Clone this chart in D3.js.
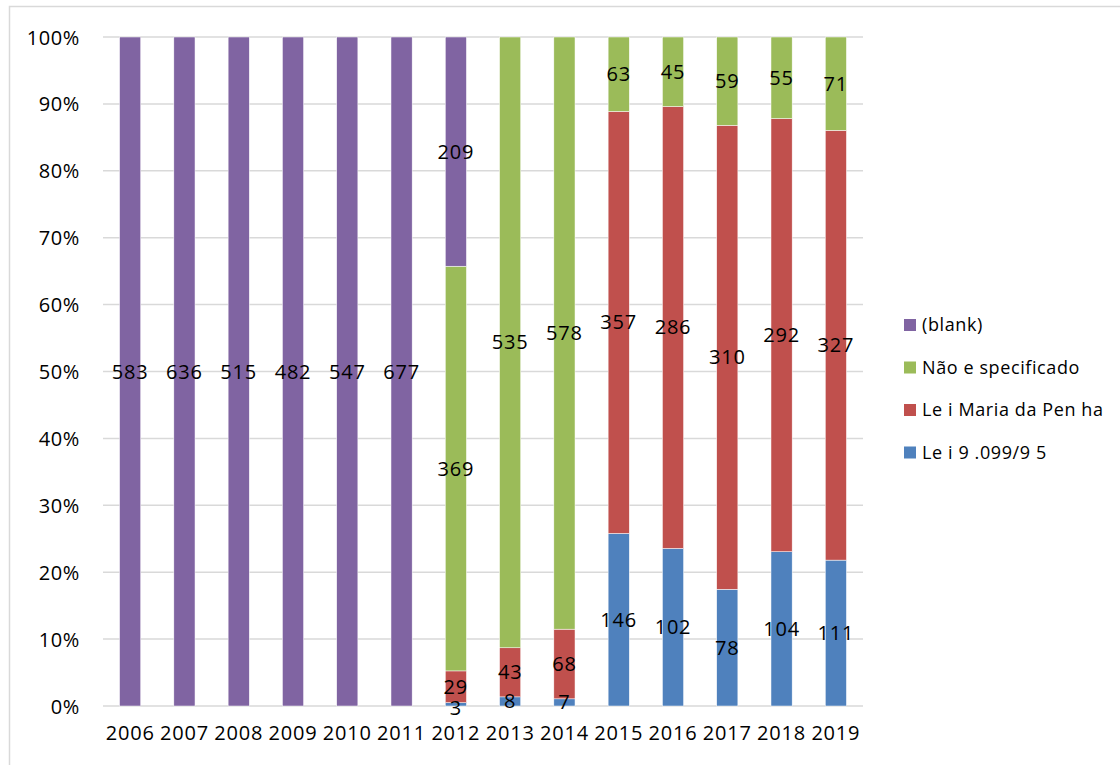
<!DOCTYPE html>
<html>
<head>
<meta charset="utf-8">
<script src="https://cdn.jsdelivr.net/npm/d3@7"></script>
<style>
  body { margin: 0; background: #fff; }
  svg text { font-family: "Open Sans", "Liberation Sans", sans-serif; fill: #000; }
</style>
</head>
<body>
<div id="chart"></div>
<script>
// data
var years = ["2006","2007","2008","2009","2010","2011","2012","2013","2014","2015","2016","2017","2018","2019"];
var lei9099 = [0, 0, 0, 0, 0, 0, 3, 8, 7, 146, 102, 78, 104, 111];
var leiMaria = [0, 0, 0, 0, 0, 0, 29, 43, 68, 357, 286, 310, 292, 327];
var naoEspec = [0, 0, 0, 0, 0, 0, 369, 535, 578, 63, 45, 59, 55, 71];
var blank = [583, 636, 515, 482, 547, 677, 209, 0, 0, 0, 0, 0, 0, 0];
var yTicks = [0, 0.1, 0.2, 0.3, 0.4, 0.5, 0.6, 0.7, 0.8, 0.9, 1];

// stacking order bottom -> top
var series = [
  {key: "lei9099", name: "Le i 9 .099/9 5", values: lei9099, color: "#4f81bd"},
  {key: "leiMaria", name: "Le i Maria da Pen ha", values: leiMaria, color: "#c0504d"},
  {key: "naoEspec", name: "Não e specificado", values: naoEspec, color: "#9bbb59"},
  {key: "blank", name: "(blank)", values: blank, color: "#8064a2"}
];

var W = 1120, H = 765;
var margin = {top: 37, right: 257, bottom: 59, left: 103};
var width = W - margin.left - margin.right,
    height = H - margin.top - margin.bottom;

var svg = d3.select("#chart").append("svg")
  .attr("width", W)
  .attr("height", H);

// chart frame
svg.append("rect")
  .attr("x", 9.5).attr("y", 6.5)
  .attr("width", W + 20).attr("height", H + 20)
  .attr("fill", "none")
  .attr("stroke", "#d9d9d9")
  .attr("stroke-width", 1.5);

var g = svg.append("g")
  .attr("transform", "translate(" + margin.left + "," + margin.top + ")");

var table = years.map(function(y, i) {
  var row = {year: y};
  series.forEach(function(s) { row[s.key] = s.values[i]; });
  return row;
});

var stack = d3.stack()
  .keys(series.map(function(s) { return s.key; }))
  .offset(d3.stackOffsetExpand);
var stacked = stack(table);

var x = d3.scaleBand()
  .domain(years)
  .range([0, width])
  .paddingInner(0.61)
  .paddingOuter(0.305);

var y = d3.scaleLinear()
  .domain([0, 1])
  .range([height, 0]);

// gridlines
g.selectAll(".grid")
  .data(yTicks)
  .enter().append("line")
  .attr("x1", 0).attr("x2", width)
  .attr("y1", function(d) { return y(d); })
  .attr("y2", function(d) { return y(d); })
  .attr("stroke", "#d9d9d9")
  .attr("stroke-width", 1.5);

// Y axis
var yAxis = g.append("g")
  .call(d3.axisLeft(y).tickValues(yTicks).tickFormat(d3.format(".0%")).tickSize(0).tickPadding(23));
yAxis.select(".domain").remove();
yAxis.selectAll("text").style("font-size", "20px").style("letter-spacing", "0.6px").attr("dy", "0.35em");

// X axis
var xAxis = g.append("g")
  .attr("transform", "translate(0," + height + ")")
  .call(d3.axisBottom(x).tickSize(0).tickPadding(34));
xAxis.select(".domain").remove();
xAxis.selectAll("text").style("font-size", "20px").style("letter-spacing", "0.8px").attr("dy", "0");

// bars
var layers = g.selectAll(".layer")
  .data(stacked)
  .enter().append("g")
  .attr("fill", function(d, i) { return series[i].color; });

layers.selectAll("rect")
  .data(function(d) { return d; })
  .enter().append("rect")
  .attr("x", function(d) { return x(d.data.year); })
  .attr("y", function(d) { return y(d[1]); })
  .attr("width", x.bandwidth())
  .attr("height", function(d) { return y(d[0]) - y(d[1]); })
  .attr("stroke", "#fff")
  .attr("stroke-width", 0.5);

// data labels, drawn above every bar
var labels = g.append("g");
stacked.forEach(function(layer, i) {
  var key = series[i].key;
  labels.selectAll(".lbl-" + key)
    .data(layer.filter(function(d) { return d.data[key] > 0; }))
    .enter().append("text")
    .attr("x", function(d) { return x(d.data.year) + x.bandwidth() / 2; })
    .attr("y", function(d) {
      var mid = (y(d[0]) + y(d[1])) / 2;
      // very thin segments: label sits just under the segment, like Excel does
      return (y(d[0]) - y(d[1]) < 6) ? y(d[0]) + 2 : mid;
    })
    .attr("dy", "0.35em")
    .attr("text-anchor", "middle")
    .style("font-size", "20px")
    .style("letter-spacing", "0.8px")
    .text(function(d) { return d.data[key]; });
});

// legend (top to bottom: blank, Não, Maria, 9.099)
var legend = svg.append("g").attr("transform", "translate(904,325)");
var legItems = series.slice().reverse();
var li = legend.selectAll(".li")
  .data(legItems)
  .enter().append("g")
  .attr("transform", function(d, i) { return "translate(0," + (i * 42.5) + ")"; });
li.append("rect")
  .attr("x", 0).attr("y", -6)
  .attr("width", 12).attr("height", 12)
  .attr("fill", function(d) { return d.color; });
li.append("text")
  .attr("x", 18).attr("y", 0)
  .attr("dy", "0.35em")
  .style("font-size", "18px")
  .style("letter-spacing", "0.6px")
  .text(function(d) { return d.name; });
</script>
</body>
</html>
